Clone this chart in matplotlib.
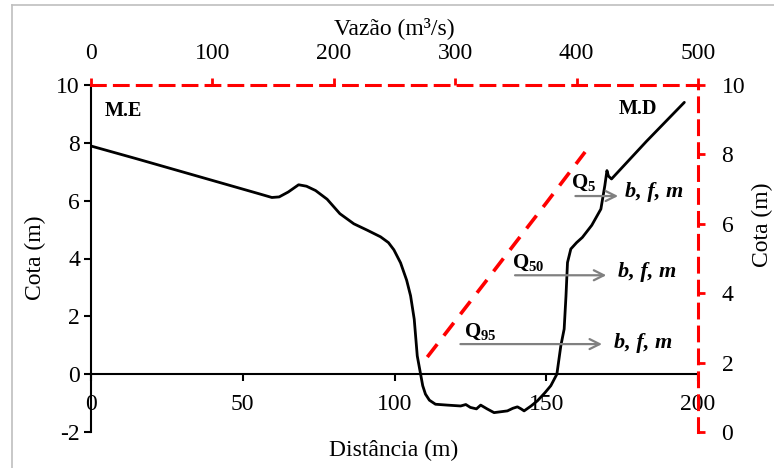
import matplotlib.pyplot as plt
from matplotlib.lines import Line2D

plt.rcParams['font.family'] = ['Liberation Serif', 'DejaVu Serif']
plt.rcParams['mathtext.fontset'] = 'custom'
plt.rcParams['mathtext.rm'] = 'Liberation Serif'
plt.rcParams['mathtext.bf'] = 'Liberation Serif:bold'
plt.rcParams['axes.unicode_minus'] = False

# cross-section profile (distance m, elevation m)
dist = [0, 15, 30, 45, 55, 59.6, 62, 65, 68.4, 71, 74, 77.8, 82, 86.6, 91, 95.4,
        98, 99.8, 102, 104, 105.3, 106.5, 107.5, 108.6, 109.3, 110.2, 111.5, 113.5,
        117.4, 121.8, 123.5, 125, 127, 128.4, 130.5, 132.8, 135, 137.2, 139, 140.5,
        141.7, 142.7, 145, 147.1, 149.5, 151.5, 153.5, 154.8, 155.9, 156.5, 157,
        158.1, 160, 161.9, 165, 168, 169.3, 170, 170.5, 171.5, 183, 195.5]
elev = [7.89, 7.45, 7.0, 6.55, 6.25, 6.11, 6.13, 6.3, 6.55, 6.5, 6.35, 6.05, 5.55,
        5.2, 4.98, 4.75, 4.55, 4.3, 3.85, 3.25, 2.71, 1.9, 0.63, 0.0, -0.4, -0.69,
        -0.9, -1.04, -1.07, -1.1, -1.05, -1.15, -1.2, -1.07, -1.2, -1.33, -1.3,
        -1.27, -1.18, -1.13, -1.2, -1.27, -1.1, -0.92, -0.65, -0.4, 0.0, 0.98,
        1.56, 2.7, 3.86, 4.33, 4.55, 4.73, 5.15, 5.71, 6.52, 7.04, 6.85, 6.75,
        8.05, 9.4]

# rating curve (discharge m3/s, stage m)
vazao = [277, 300, 325, 350, 375, 407]
cota_q = [2.16, 3.2, 4.33, 5.47, 6.6, 8.07]

# reference discharges: label, arrow start, arrow end, level
q_labels = [r'$\mathbf{Q}_{\mathbf{5}}$', r'$\mathbf{Q}_{\mathbf{50}}$', r'$\mathbf{Q}_{\mathbf{95}}$']
q_x0 = [158.7, 138.8, 120.8]
q_x1 = [174.6, 170.7, 169.3]
q_lvl = [6.16, 3.42, 1.04]
q_txt = [(158.2, 6.22), (138.6, 3.47), (123.0, 1.07)]
bfm_x = [176.0, 173.7, 172.3]
bfm_y = [6.3, 3.52, 1.09]

red = '#ff0000'
fig = plt.figure(figsize=(7.74, 4.68), dpi=100)

# light frame at left/top
fig.add_artist(Line2D([12/774, 12/774], [0, 1 - 5/468], color='#bfbfbf', lw=1.2))
fig.add_artist(Line2D([12/774, 1], [1 - 5/468, 1 - 5/468], color='#bfbfbf', lw=1.2))

pos = [91/774, 1 - 432/468, (698 - 91)/774, (432 - 85)/468]
ax = fig.add_axes(pos)
ax.set_xlim(0, 200)
ax.set_ylim(-2, 10)
ax.spines['top'].set_visible(False)
ax.spines['right'].set_visible(False)
ax.spines['bottom'].set_position(('data', 0))
ax.spines['left'].set_linewidth(1.5)
ax.spines['bottom'].set_linewidth(1.5)
ax.set_xticks([0, 50, 100, 150, 200])
ax.set_yticks([-2, 0, 2, 4, 6, 8, 10])
ax.tick_params(axis='both', direction='out', length=5, width=1.5, labelsize=17)
ax.tick_params(axis='x', pad=9)
ax.tick_params(axis='y', pad=3)
ax.patch.set_alpha(0)

ax.plot(dist, elev, color='black', lw=2, solid_capstyle='round')

for lab, x0, x1, y, (tx, ty), bx, by in zip(q_labels, q_x0, q_x1, q_lvl, q_txt, bfm_x, bfm_y):
    ax.annotate('', xy=(x1, y), xytext=(x0, y),
                arrowprops=dict(arrowstyle='->', color='#808080', lw=1.6, mutation_scale=18))
    ax.text(tx, ty, lab, fontsize=15, ha='left', va='bottom')
    ax.text(bx, by, 'b, f, m', fontsize=16, ha='left', va='center',
            fontweight='bold', fontstyle='italic')

ax.text(4.5, 9.1, 'M.E', fontsize=14.5, fontweight='bold', ha='left', va='center')
ax.text(174, 9.17, 'M.D', fontsize=14.5, fontweight='bold', ha='left', va='center')

# secondary axes: discharge (top) and stage (right)
ax2 = fig.add_axes(pos)
ax2.patch.set_alpha(0)
ax2.set_xlim(0, 500)
ax2.set_ylim(0, 10)
for s in ['left', 'bottom']:
    ax2.spines[s].set_visible(False)
for s in ['top', 'right']:
    ax2.spines[s].set_color(red)
    ax2.spines[s].set_linewidth(2.2)
    ax2.spines[s].set_linestyle((0, (4.5, 3)))
ax2.xaxis.set_ticks_position('top')
ax2.yaxis.set_ticks_position('right')
ax2.set_xticks([0, 100, 200, 300, 400, 500])
ax2.set_yticks([0, 2, 4, 6, 8, 10])
ax2.tick_params(axis='both', direction='out', length=5, width=2, color=red,
                labelcolor='black', labelsize=17)
ax2.tick_params(axis='x', pad=10)
ax2.tick_params(axis='y', pad=12)

ax2.plot(vazao, cota_q, color=red, lw=2.6, linestyle=(0, (4.5, 3)))

fig.text(394/774, 1 - 28/468, 'Vazão (m³/s)', fontsize=17, ha='center', va='center')
fig.text(394/774, 1 - 450/468, 'Distância (m)', fontsize=17, ha='center', va='center')
fig.text(35/774, 1 - 258/468, 'Cota (m)', fontsize=17, ha='center', va='center', rotation=90)
fig.text(762/774, 1 - 225/468, 'Cota (m)', fontsize=17, ha='center', va='center', rotation=90)

fig.savefig('out.png', dpi=100)
